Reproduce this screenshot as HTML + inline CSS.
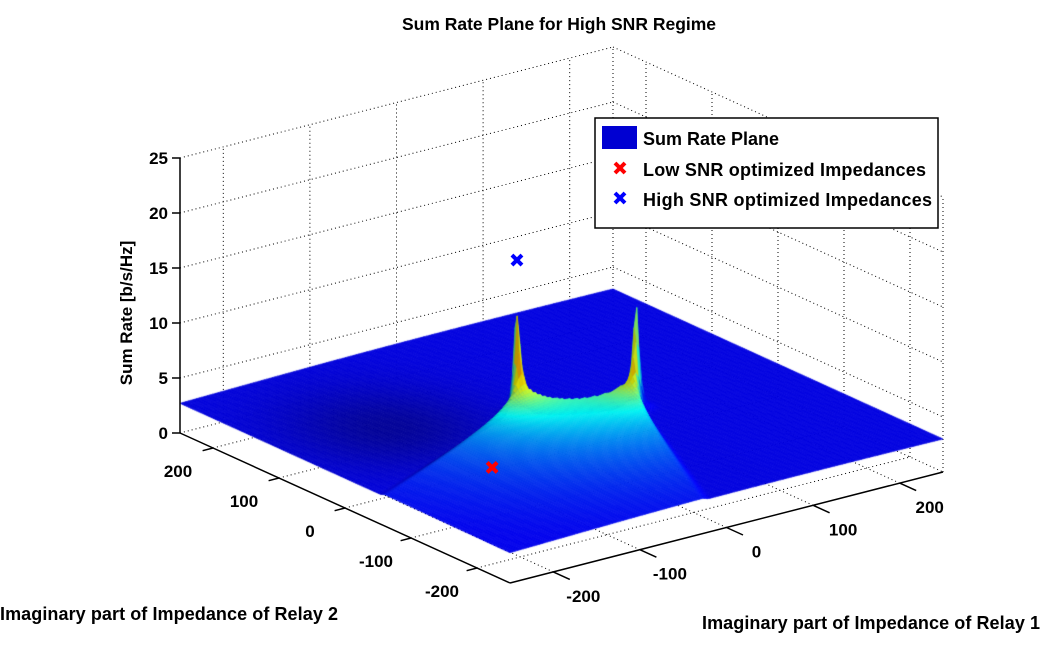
<!DOCTYPE html>
<html><head><meta charset="utf-8"><style>
html,body{margin:0;padding:0;background:#fff}
#wrap{position:relative;width:1043px;height:656px;overflow:hidden;font-family:"Liberation Sans",sans-serif;font-weight:bold}
svg,canvas{position:absolute;left:0;top:0}
</style></head><body>
<div id="wrap">
<svg id="grid" width="1043" height="656"></svg>
<canvas id="surf" width="1043" height="656"></canvas>
<svg id="over" width="1043" height="656">
<text x="559" y="30" text-anchor="middle" font-size="17.5">Sum Rate Plane for High SNR Regime</text>
<text transform="translate(132,313) rotate(-90)" text-anchor="middle" font-size="17">Sum Rate [b/s/Hz]</text>
<text x="0" y="620" font-size="18" textLength="338">Imaginary part of Impedance of Relay 2</text>
<text x="702" y="629" font-size="18" textLength="338">Imaginary part of Impedance of Relay 1</text>
<g>
<rect x="595" y="118" width="343" height="110" fill="#fff" stroke="#000" stroke-width="1.5"/>
<rect x="602" y="126" width="35" height="23" fill="#0000d2"/>
<text x="643" y="145" font-size="18">Sum Rate Plane</text>
<g stroke="#f00" stroke-width="4"><line x1="615" y1="163" x2="625" y2="173"/><line x1="625" y1="163" x2="615" y2="173"/></g>
<text x="643" y="176" font-size="18" textLength="283">Low SNR optimized Impedances</text>
<g stroke="#00f" stroke-width="4"><line x1="615" y1="193" x2="625" y2="203"/><line x1="625" y1="193" x2="615" y2="203"/></g>
<text x="643" y="206" font-size="18" textLength="289">High SNR optimized Impedances</text>
</g>
</svg>
</div>
<script>
// ---- data ----
const xTicks = [-200,-100,0,100,200];
const yTicks = [-200,-100,0,100,200];
const zTicks = [0,5,10,15,20,25];
const peakX = [-24, 74];
const peakY = [36, -16];
const peakHeight = [13, 12];
const baseRate = 2.7;
const lowSNR = [-138, -76, 3.5];
const highSNR = [-24, 36, 17];
const zMax = 25;

// ---- projection ----
const F=[510,583], RF=[433,-111], LF=[-330,-150], ZS=11;
function P(x,y,z){const u=(x+250)/500,v=(y+250)/500;return [F[0]+RF[0]*u+LF[0]*v, F[1]+RF[1]*u+LF[1]*v-ZS*z];}
const NS='http://www.w3.org/2000/svg';
function mk(parent,tag,attrs){const e=document.createElementNS(NS,tag);for(const k in attrs)e.setAttribute(k,attrs[k]);parent.appendChild(e);return e;}
function line(parent,a,b,attrs){return mk(parent,'line',Object.assign({x1:a[0],y1:a[1],x2:b[0],y2:b[1]},attrs));}

// ---- grid ----
const g=document.getElementById('grid');
const dot={stroke:'#000','stroke-width':1,'stroke-dasharray':'1,3'};
xTicks.forEach(x=>{
  let l=line(g,P(x,-250,0),P(x,250,0),dot);
  
  
  l=line(g,P(x,250,0),P(x,250,zMax),dot);
  
  
});
yTicks.forEach(y=>{
  let l=line(g,P(-250,y,0),P(250,y,0),dot);
  
  
  l=line(g,P(250,y,0),P(250,y,zMax),dot);
  
  
});
zTicks.forEach(z=>{
  let l=line(g,P(-250,250,z),P(250,250,z),dot);
  
  
  l=line(g,P(250,250,z),P(250,-250,z),dot);
  
  
});
[[250,250],[250,-250]].forEach(c=>{
  const l=line(g,P(c[0],c[1],0),P(c[0],c[1],zMax),dot);
  
  
});

// ---- surface ----
function sstep(t){t=Math.max(0,Math.min(1,t));return t*t*(3-2*t);}
const ecx=peakX[1]+16, ecy=peakY[0]+24, erx=120, ery=76.7;
function field(x,y){
  const s1=(y-peakY[0]) - (93/226)*(x-peakX[0]);
  const s2=(x-peakX[1]) - (89/212)*(y-peakY[1]);
  const ex=(x-ecx)/erx, ey=(y-ecy)/ery;
  const e=ex*ex+ey*ey-1;
  const m=sstep(-s1/10+0.5)*sstep(-s2/10+0.5)*sstep(e/0.12+0.5);
  let c=0, sp=0;
  for(let k=0;k<peakX.length;k++){
    const d=Math.hypot(x-peakX[k],y-peakY[k]);
    c+=Math.exp(-d/100)*(1+1.2*Math.exp(-d/25));
    sp+=peakHeight[k]*Math.exp(-d/3.2);
  }
  const base=baseRate+0.2*Math.sin((x+250)/500*Math.PI)+0.3*(x+250)/500;
  const dark=(1-m)*0.32*Math.exp(-(((x+139)/95)**2+((y-78)/110)**2));
  return {z: base + m*c*1.3 + sp, c: m*c, sp: sp, dark: dark};
}
function jet(t){t=Math.max(0,Math.min(1,t));const c=v=>Math.max(0,Math.min(1,1.5-Math.abs(v)));return [c(4*t-3),c(4*t-2),c(4*t-1)];}
const cv=document.getElementById('surf'),ctx=cv.getContext('2d');
const N=160, step=500/N, Fd=[];
for(let i=0;i<=N;i++){Fd.push([]);for(let j=0;j<=N;j++)Fd[i].push(field(-250+i*step,-250+j*step));}
const Lv=[0.35,-0.55,0.76];const ln=Math.hypot(...Lv);
const quads=[];
for(let i=0;i<N;i++)for(let j=0;j<N;j++)quads.push([i,j]);
quads.sort((a,b)=>(b[0]+b[1])-(a[0]+a[1]));
quads.forEach(([i,j])=>{
  const x0=-250+i*step,y0=-250+j*step,x1=x0+step,y1=y0+step;
  const A=Fd[i][j],B=Fd[i+1][j],C=Fd[i+1][j+1],D=Fd[i][j+1];
  const za=A.z,zb=B.z,zc=C.z,zd=D.z;
  const dzx=((zb-za)+(zc-zd))/2/step*20, dzy=((zd-za)+(zc-zb))/2/step*20;
  const n=[-dzx,-dzy,1],nn=Math.hypot(...n);
  const dp=(n[0]*Lv[0]+n[1]*Lv[1]+n[2]*Lv[2])/(nn*ln);
  const sh=(0.72+0.28*Math.max(0,dp))*(1-(A.dark+C.dark)/2);
  const cc=(A.c+B.c+C.c+D.c)/4, sp=(A.sp+B.sp+C.sp+D.sp)/4;
  const col=jet(0.11+0.26*cc+0.035*sp);
  const r=Math.round(255*col[0]*sh),gg=Math.round(255*col[1]*sh),bb=Math.round(255*col[2]*sh);
  const pa=P(x0,y0,za),pb=P(x1,y0,zb),pc=P(x1,y1,zc),pd=P(x0,y1,zd);
  ctx.fillStyle=ctx.strokeStyle=`rgb(${r},${gg},${bb})`;
  ctx.lineWidth=0.6;
  ctx.beginPath();ctx.moveTo(pa[0],pa[1]);ctx.lineTo(pb[0],pb[1]);ctx.lineTo(pc[0],pc[1]);ctx.lineTo(pd[0],pd[1]);ctx.closePath();ctx.fill();ctx.stroke();
});

// ---- axes ----
const o=document.getElementById('over');
const ax={stroke:'#000','stroke-width':1.5};
let a=line(o,P(-250,250,0),P(-250,250,zMax),ax);


a=line(o,P(-250,250,0),P(-250,-250,0),ax);


a=line(o,P(-250,-250,0),P(250,-250,0),ax);


zTicks.forEach(z=>{
  const p=P(-250,250,z);
  const t=line(o,[p[0]-8,p[1]],p,ax);
  
  
  const tx=mk(o,'text',{x:p[0]-12,y:p[1]+6,'text-anchor':'end','font-size':17});
  tx.textContent=z;
  
  
});
yTicks.forEach(y=>{
  const p=P(-250,y,0),q=P(-262,y,0);
  const t=line(o,p,q,ax);
  
  
  const tx=mk(o,'text',{x:p[0]-35,y:p[1]+29,'text-anchor':'middle','font-size':17});
  tx.textContent=y;
  
  
});
xTicks.forEach(x=>{
  const p=P(x,-250,0),q=P(x,-275,0);
  const t=line(o,p,q,ax);
  
  
  const tx=mk(o,'text',{x:p[0]+30,y:p[1]+30,'text-anchor':'middle','font-size':17});
  tx.textContent=x;
  
  
});
function marker(d,color,name){
  const p=P(d[0],d[1],d[2]);
  const gm=mk(o,'g',{stroke:color,'stroke-width':4});
  
  
  line(gm,[p[0]-5,p[1]-5],[p[0]+5,p[1]+5],{});
  line(gm,[p[0]+5,p[1]-5],[p[0]-5,p[1]+5],{});
}
marker(lowSNR,'#f00','low-snr-marker');
marker(highSNR,'#00f','high-snr-marker');
</script>
</body></html>
